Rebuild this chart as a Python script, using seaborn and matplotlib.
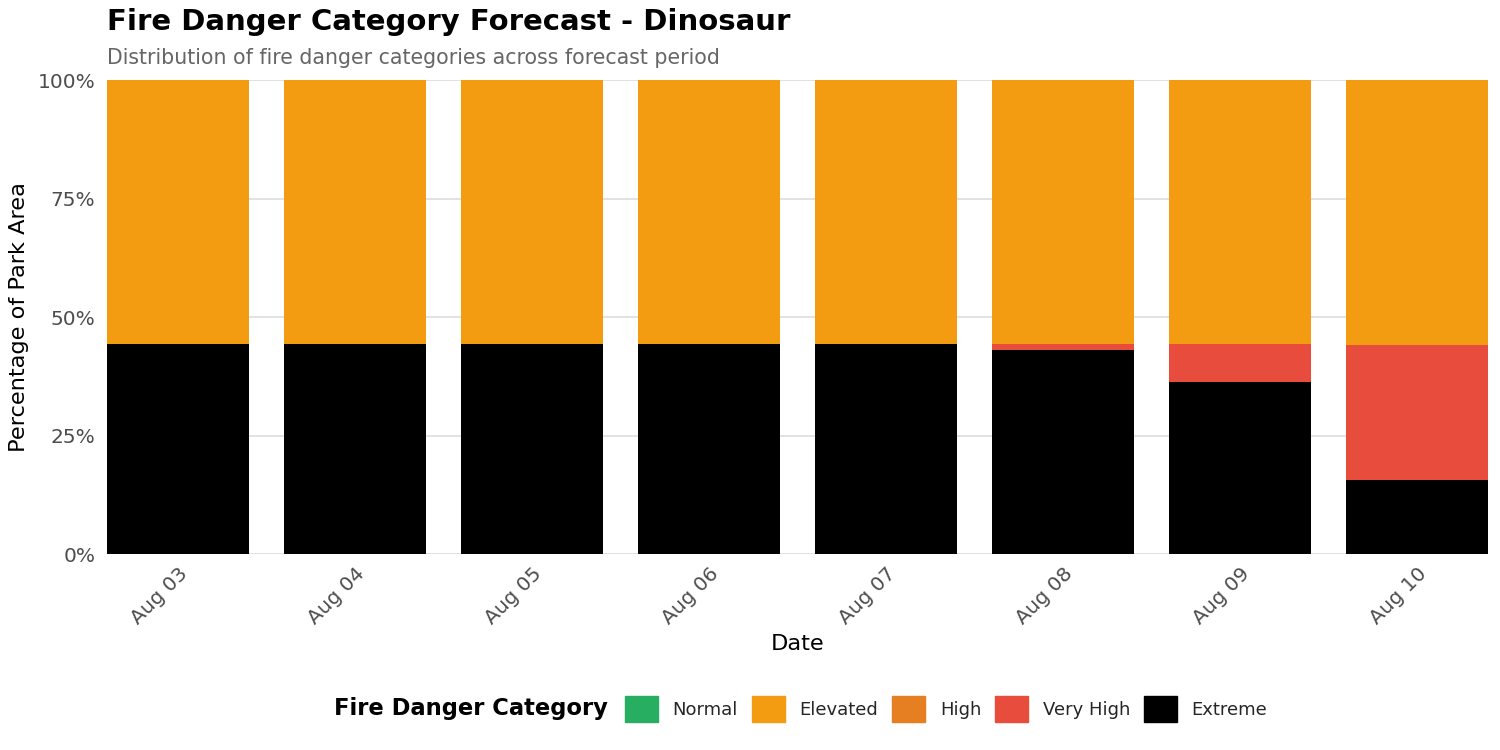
import numpy as np
import pandas as pd
import matplotlib.pyplot as plt
import matplotlib.patches as mpatches
import seaborn as sns

# Data (percent of park area)
dates = ["Aug 03", "Aug 04", "Aug 05", "Aug 06", "Aug 07", "Aug 08", "Aug 09", "Aug 10"]
categories = ["Normal", "Elevated", "High", "Very High", "Extreme"]
colors = ["#27AE60", "#F39C12", "#E67E22", "#E74C3C", "#000000"]

extreme = [44.4, 44.4, 44.4, 44.4, 44.4, 43.0, 36.3, 15.6]
very_high = [0.0, 0.0, 0.0, 0.0, 0.0, 1.4, 8.1, 28.6]
high = [0.0, 0.0, 0.0, 0.0, 0.0, 0.0, 0.0, 0.0]
elevated = [55.6, 55.6, 55.6, 55.6, 55.6, 55.6, 55.6, 55.8]
normal = [0.0, 0.0, 0.0, 0.0, 0.0, 0.0, 0.0, 0.0]

sns.set_style("white")
plt.rcParams['font.family'] = ['DejaVu Sans']

fig, ax = plt.subplots(figsize=(15, 7.5), dpi=100)
fig.subplots_adjust(left=0.0713, right=0.992, top=0.893, bottom=0.261)

# stacked bars, drawn from the top layer down as cumulative totals
layers = {"Extreme": extreme, "Very High": very_high, "High": high,
          "Elevated": elevated, "Normal": normal}
stack_order = ["Extreme", "Very High", "High", "Elevated", "Normal"]
cum = np.zeros(len(dates))
cums = {}
for cat in stack_order:
    cum = cum + np.array(layers[cat])
    cums[cat] = cum.copy()

for cat in reversed(stack_order):
    if sum(layers[cat]) == 0:
        continue
    df = pd.DataFrame({"date": dates, "value": cums[cat]})
    sns.barplot(data=df, x="date", y="value", color=colors[categories.index(cat)],
                width=0.8, saturation=1, ax=ax, linewidth=0)

ax.set_xlim(-0.5 + 0.1, len(dates) - 0.5 - 0.1)
ax.set_ylim(0, 100)
ax.set_yticks([0, 25, 50, 75, 100])
ax.set_yticklabels(["0%", "25%", "50%", "75%", "100%"])
ax.yaxis.grid(True, color="#DDDDDD", linewidth=1.2)
ax.set_axisbelow(True)
for s in ax.spines.values():
    s.set_visible(False)
ax.tick_params(axis="both", length=0, labelsize=14.5, colors="#4D4D4D")
ax.tick_params(axis="y", pad=8.5)
ax.tick_params(axis="x", pad=7)
plt.setp(ax.get_xticklabels(), rotation=45, ha="right", rotation_mode="anchor")

ax.set_xlabel("Date", fontsize=16.2, labelpad=4, color="black")
ax.set_ylabel("Percentage of Park Area", fontsize=16.2, labelpad=6, color="black")

fig.text(0.0713, 0.971, "Fire Danger Category Forecast - Dinosaur", fontsize=21,
         fontweight="bold", ha="left", va="center", color="black")
fig.text(0.0713, 0.923, "Distribution of fire danger categories across forecast period",
         fontsize=14.8, color="#666666", ha="left", va="center")

handles = [mpatches.Patch(color=c, label=l) for c, l in zip(colors, categories)]
fig.text(0.223, 0.055, "Fire Danger Category", fontsize=16.3, fontweight="bold",
         ha="left", va="center", color="black")
fig.legend(handles=handles, loc="center left", bbox_to_anchor=(0.4167, 0.055), ncol=5,
           frameon=False, fontsize=13, handlelength=1.83, handleheight=1.83,
           handletextpad=0.8, columnspacing=0.78, borderpad=0, borderaxespad=0)

fig.savefig("out.png", dpi=100)
